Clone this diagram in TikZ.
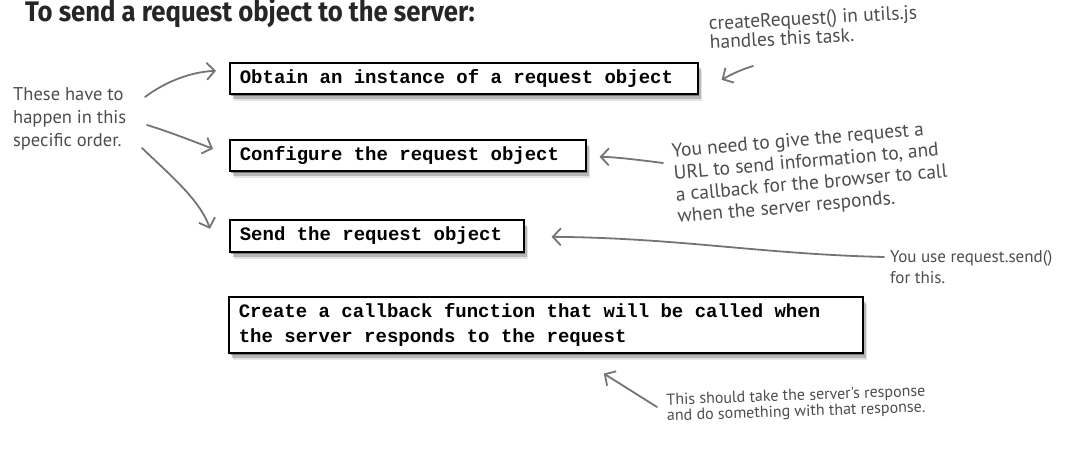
\documentclass[tikz,border=0pt]{standalone}
\usepackage{fontspec}
\usetikzlibrary{arrows.meta,shadows,calc}
\newfontfamily\codefont{Liberation Mono}
\newfontfamily\handfont{PT Sans}
\newfontfamily\titlefont{Fira Sans}
\newcommand{\codespace}{\spaceskip=0.6em\relax}
\definecolor{ink}{HTML}{4D4D4D}
\definecolor{arrowgray}{HTML}{747474}
\begin{document}
\begin{tikzpicture}[x=1pt,y=-1pt,
  codebox/.style={draw=black, line width=1.6pt, fill=white, anchor=north west,
    align=left, inner xsep=10pt, inner ysep=0pt,
    font=\codefont\bfseries\fontsize{19}{25}\selectfont,
    general shadow={shadow xshift=4.5pt, shadow yshift=-7.5pt, fill=black, opacity=.10},
    general shadow={shadow xshift=3pt, shadow yshift=-5pt, fill=black, opacity=.20},
    general shadow={shadow xshift=1.5pt, shadow yshift=-2.5pt, fill=black, opacity=.35}},
  hand/.style={text=ink, inner sep=0pt, align=left, anchor=base west},
  note/.style={draw=arrowgray, line width=1.8pt, line cap=round,
    -{Straight Barb[length=8pt,width=17pt,line width=1.8pt]}}
]
\useasboundingbox (0,0) rectangle (1080,463);

% title
\node[anchor=base west, inner sep=0pt, text=black!85,
  font=\titlefont\bfseries\fontsize{25.7}{28}\selectfont] (title) at (25,21)
  {\scalebox{1}[1.1]{To send a request object to the server:}};

% boxes
\node[codebox, text width=448pt, minimum height=31pt] (b1) at (229,62)
  {\codespace Obtain an instance of a request object};
\node[codebox, text width=336pt, minimum height=31pt] (b2) at (229,139)
  {\codespace Configure the request object};
\node[codebox, text width=274pt, minimum height=32pt] (b3) at (229,219)
  {\codespace Send the request object};
\node[codebox, text width=614pt, minimum height=56pt] (b4) at (228,296)
  {\codespace Create a callback function that will be called when\\the server responds to the request};

% annotations (anchor = baseline of the last line)
\node[hand, font=\handfont\fontsize{18.5}{23}\selectfont] (order) at (13,146)
  {These have to\\happen in this\\specific order.};
\node[hand, rotate=3, font=\handfont\fontsize{19.5}{17}\selectfont] (create) at (710,49)
  {createRequest() in utils.js\\handles this task.};
\node[hand, rotate=5, font=\handfont\fontsize{19.5}{22}\selectfont] (config) at (678,223)
  {You need to give the request a\\URL to send information to, and\\a callback for the browser to call\\when the server responds.};
\node[hand, font=\handfont\fontsize{17}{21}\selectfont] (send) at (890,283)
  {You use request.send()\\for this.};
\node[hand, rotate=2, font=\handfont\fontsize{16}{16}\selectfont] (cb) at (667,421)
  {This should take the server's response\\and do something with that response.};

% arrow start points
\coordinate (s1) at (145,97);
\coordinate (s2) at (147,125);
\coordinate (s3) at (142,148);
\coordinate (s4) at (753,66);
\coordinate (s5) at (663,163);
\coordinate (s6) at (884,257);
\coordinate (s7) at (657,407);

% connectors
\draw[note] (s1) .. controls (165,82) and (190,72) .. ($(b1.west)+(-13,-7.5)$);
\draw[note] (s2) .. controls (170,132) and (195,142) .. ($(b2.west)+(-16,-6.5)$);
\draw[note] (s3) .. controls (170,175) and (200,200) .. ($(b3.west)+(-19,-7)$);
\draw[note] (s4) .. controls (740,70) and (730,75) .. ($(b1.east)+(23,1.5)$);
\draw[note] (s5) .. controls (640,160) and (615,157) .. ($(b2.east)+(13,1.5)$);
\draw[note] (s6) .. controls (760,254) and (680,238) .. ($(b3.east)+(27,1)$);
\draw[note] (s7) -- ($(b4.south)+(58,20)$);
\end{tikzpicture}
\end{document}
